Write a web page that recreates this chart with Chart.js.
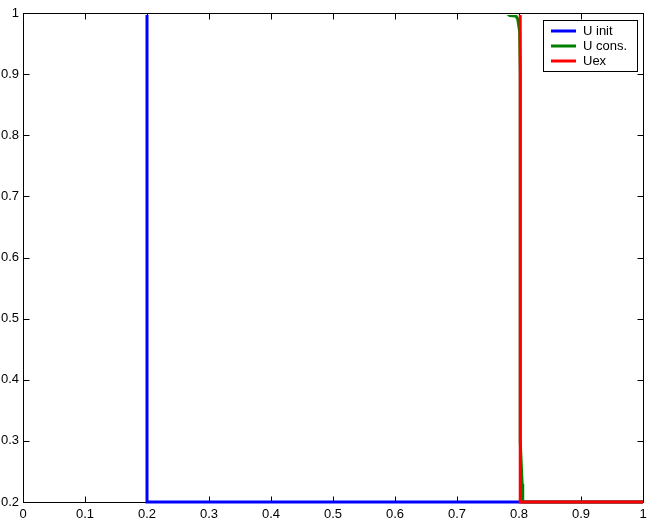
<!DOCTYPE html>
<html>
<head>
<meta charset="utf-8">
<script src="https://cdn.jsdelivr.net/npm/chart.js@4/dist/chart.umd.min.js"></script>
<style>
  html, body { margin: 0; padding: 0; background: #fff; }
  #wrap { width: 652px; height: 523px; }
</style>
</head>
<body>
<div id="wrap"><canvas id="plot"></canvas></div>
<script>
// values
const xInit = [0, 0.2, 0.2, 1];
const yInit = [1, 1, 0.2, 0.2];

const xCons = [0, 0.78, 0.785, 0.795, 0.798, 0.801, 0.802, 0.802, 0.805, 0.806, 1];
const yCons = [1, 1, 0.996, 0.995, 0.99, 0.97, 0.9, 0.3, 0.23, 0.2, 0.2];

const xEx = [0, 0.802, 0.802, 1];
const yEx = [1, 1, 0.2, 0.2];

const seriesNames = ["U init", "U cons.", "Uex"];
const seriesColors = ["#0000ff", "#008000", "#ff0000"];

const xTicks = [0, 0.1, 0.2, 0.3, 0.4, 0.5, 0.6, 0.7, 0.8, 0.9, 1];
const yTicks = [0.2, 0.3, 0.4, 0.5, 0.6, 0.7, 0.8, 0.9, 1];

const FONT = { family: "'Liberation Sans', Arial, Helvetica, sans-serif", size: 13 };

function toPoints(xs, ys) {
  return xs.map((x, i) => ({ x: x, y: ys[i] }));
}

function fmt(v) {
  return String(Math.round(v * 10) / 10);
}

// box with inward ticks, then a clip that hides lines lying on the top edge
const framePlugin = {
  id: "frame",
  beforeDatasetsDraw(chart) {
    const { ctx, chartArea: a, scales } = chart;
    const L = Math.round(a.left) + 0.5, R = Math.round(a.right) + 0.5;
    const T = Math.round(a.top) + 0.5, B = Math.round(a.bottom) + 0.5;
    ctx.save();
    ctx.strokeStyle = "#000";
    ctx.lineWidth = 1;
    ctx.strokeRect(L, T, R - L, B - T);
    const len = 6;
    ctx.beginPath();
    xTicks.forEach(v => {
      const px = Math.round(scales.x.getPixelForValue(v)) + 0.5;
      ctx.moveTo(px, B); ctx.lineTo(px, B - len);
      ctx.moveTo(px, T); ctx.lineTo(px, T + len);
    });
    yTicks.forEach(v => {
      const py = Math.round(scales.y.getPixelForValue(v)) + 0.5;
      ctx.moveTo(L, py); ctx.lineTo(L + len, py);
      ctx.moveTo(R, py); ctx.lineTo(R - len, py);
    });
    ctx.stroke();
    ctx.restore();

    ctx.save();
    ctx.beginPath();
    ctx.rect(a.left - 2, a.top + 2, a.right - a.left + 4, a.bottom - a.top);
    ctx.clip();
  },
  afterDatasetsDraw(chart) {
    chart.ctx.restore();
  }
};

const legendPlugin = {
  id: "boxLegend",
  afterDatasetsDraw(chart) {
    const { ctx } = chart;
    const bx = 543.5, by = 20.5, bw = 94, bh = 51;
    ctx.save();
    ctx.fillStyle = "#fff";
    ctx.fillRect(bx, by, bw, bh);
    ctx.strokeStyle = "#000";
    ctx.lineWidth = 1;
    ctx.strokeRect(bx, by, bw, bh);
    ctx.font = FONT.size + "px " + FONT.family;
    ctx.textBaseline = "middle";
    ctx.textAlign = "left";
    seriesNames.forEach((name, i) => {
      const y = 31 + i * 15;
      ctx.strokeStyle = seriesColors[i];
      ctx.lineWidth = 3;
      ctx.beginPath();
      ctx.moveTo(551, y); ctx.lineTo(576, y);
      ctx.stroke();
      ctx.fillStyle = "#000";
      ctx.fillText(name, 583, y);
    });
    ctx.restore();
  }
};

new Chart(document.getElementById("plot"), {
  type: "scatter",
  data: {
    datasets: [
      { label: seriesNames[0], data: toPoints(xInit, yInit), order: 3 },
      { label: seriesNames[1], data: toPoints(xCons, yCons), order: 2 },
      { label: seriesNames[2], data: toPoints(xEx, yEx), order: 1 }
    ].map((d, i) => Object.assign(d, {
      showLine: true,
      borderColor: seriesColors[i],
      backgroundColor: seriesColors[i],
      borderWidth: 3,
      pointRadius: 0,
      tension: 0,
      clip: false
    }))
  },
  options: {
    responsive: true,
    maintainAspectRatio: false,
    animation: false,
    layout: { padding: { top: 13, right: 9, left: 0, bottom: 0 } },
    plugins: { legend: { display: false }, tooltip: { enabled: false } },
    scales: {
      x: {
        type: "linear",
        min: 0,
        max: 1,
        afterBuildTicks: s => { s.ticks = xTicks.map(v => ({ value: v })); },
        afterFit: s => { s.height = 21; },
        grid: { display: false, drawTicks: false },
        border: { display: false },
        ticks: { color: "#000", font: FONT, padding: 5, maxRotation: 0, autoSkip: false, callback: v => fmt(v) }
      },
      y: {
        type: "linear",
        min: 0.2,
        max: 1,
        afterBuildTicks: s => { s.ticks = yTicks.map(v => ({ value: v })); },
        afterFit: s => { s.width = 23; },
        grid: { display: false, drawTicks: false },
        border: { display: false },
        ticks: { color: "#000", font: FONT, padding: 4, autoSkip: false, callback: v => fmt(v) }
      }
    }
  },
  plugins: [framePlugin, legendPlugin]
});
</script>
</body>
</html>
